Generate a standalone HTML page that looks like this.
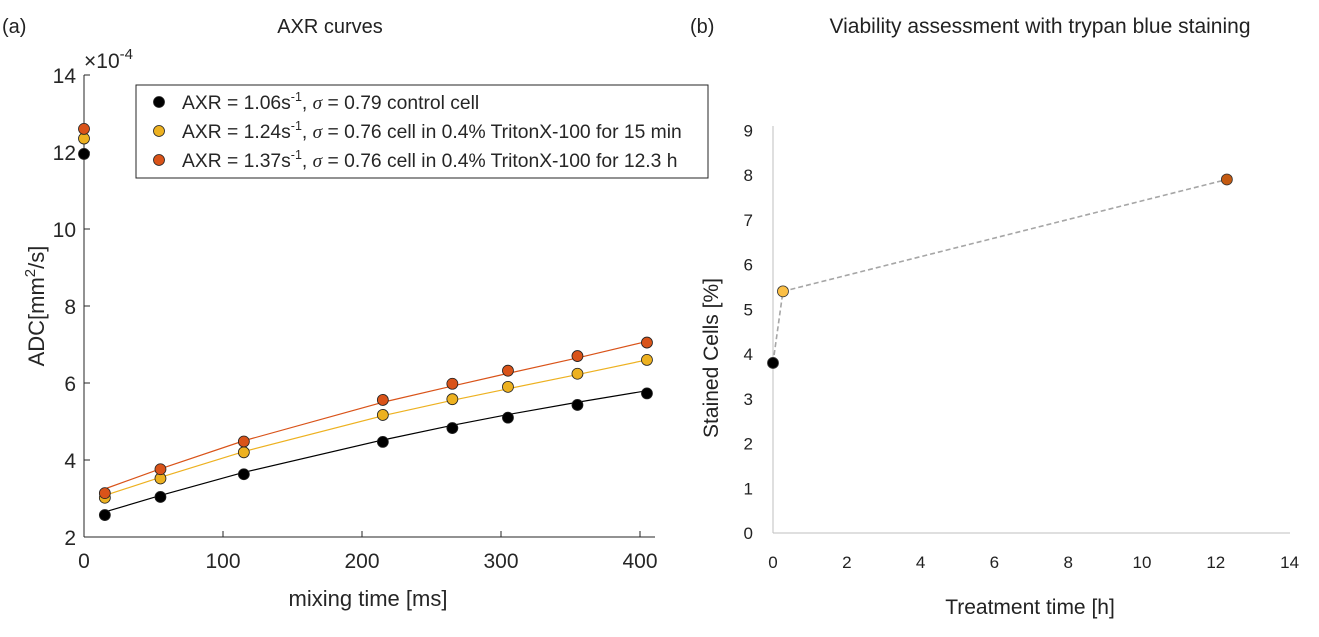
<!DOCTYPE html>
<html><head><meta charset="utf-8"><style>
body{margin:0;background:#fff;width:1319px;height:632px;overflow:hidden}
svg{font-family:"Liberation Sans",sans-serif}
</style></head><body>
<svg id="c" width="1319" height="632">
<text x="2" y="33" font-size="20" fill="#222">(a)</text>
<text x="330" y="33" font-size="20" fill="#222" text-anchor="middle">AXR curves</text>
<text x="690" y="33" font-size="20" fill="#222">(b)</text>
<text x="1040" y="33" font-size="21" fill="#222" text-anchor="middle">Viability assessment with trypan blue staining</text>
<g id="L"></g><g id="R"></g>
</svg>
<script>
// Left chart data (ADC x1e-4)
const mixTimes=[0,15,55,115,215,265,305,355,405];
const adcControl=[11.95,2.57,3.04,3.63,4.47,4.83,5.1,5.43,5.73];
const adc15min=[12.35,3.02,3.52,4.2,5.17,5.58,5.9,6.24,6.6];
const adc12h=[12.6,3.14,3.76,4.48,5.56,5.98,6.32,6.7,7.05];
const fitTimes=[15,55,115,215,265,305,355,405];
const fitControl=[2.65,3.08,3.68,4.52,4.9,5.18,5.5,5.8];
const fit15min=[3.08,3.55,4.22,5.15,5.55,5.85,6.22,6.6];
const fit12h=[3.25,3.77,4.5,5.5,5.92,6.25,6.65,7.08];
const xTicksL=[0,100,200,300,400];
const yTicksL=[2,4,6,8,10,12,14];
const legendLabels=["control cell","cell in 0.4% TritonX-100 for 15 min","cell in 0.4% TritonX-100 for 12.3 h"];
const legendAXR=["1.06","1.24","1.37"];
const legendSigma=["0.79","0.76","0.76"];
// Right chart data
const treatTimes=[0,0.27,12.3];
const stained=[3.8,5.4,7.9];
const xTicksR=[0,2,4,6,8,10,12,14];
const yTicksR=[0,1,2,3,4,5,6,7,8,9];

const NS="http://www.w3.org/2000/svg";
function mk(p,t,a,txt){const e=document.createElementNS(NS,t);for(const k in a)e.setAttribute(k,a[k]);if(txt!==undefined)e.textContent=txt;p.appendChild(e);return e;}
const L=document.getElementById('L'),R=document.getElementById('R');
const xL=v=>84+v*1.39, yL=v=>537-(v-2)*38.5;
let e;
e=mk(L,'line',{x1:84,y1:537,x2:655,y2:537,stroke:'#262626'});

e=mk(L,'line',{x1:84,y1:537,x2:84,y2:75,stroke:'#262626'});

xTicksL.forEach(t=>{mk(L,'line',{x1:xL(t),y1:537,x2:xL(t),y2:531,stroke:'#262626'});
e=mk(L,'text',{x:xL(t),y:568,'font-size':21,'text-anchor':'middle',fill:'#262626'},t);
});
yTicksL.forEach(t=>{mk(L,'line',{x1:84,y1:yL(t),x2:90,y2:yL(t),stroke:'#262626'});
e=mk(L,'text',{x:76,y:yL(t)+8,'font-size':21,'text-anchor':'end',fill:'#262626'},t);
});
e=mk(L,'text',{x:84,y:68,'font-size':21,fill:'#262626'});
e.innerHTML='×10<tspan dy="-9" font-size="15">-4</tspan>';

e=mk(L,'text',{x:368,y:606,'font-size':22,'text-anchor':'middle',fill:'#262626'},'mixing time [ms]');

e=mk(L,'text',{transform:'translate(44,306) rotate(-90)','font-size':22,'text-anchor':'middle',fill:'#262626'});
e.innerHTML='ADC[mm<tspan dy="-9" font-size="15">2</tspan><tspan dy="9">/s]</tspan>';

const cols=['#000000','#EDB120','#D95319'];
[[fitControl,adcControl],[fit15min,adc15min],[fit12h,adc12h]].forEach((s,i)=>{
 e=mk(L,'polyline',{points:fitTimes.map((t,j)=>xL(t)+','+yL(s[0][j])).join(' '),fill:'none',stroke:cols[i],'stroke-width':1.2});
 
 mixTimes.forEach((t,j)=>{e=mk(L,'circle',{cx:xL(t),cy:yL(s[1][j]),r:5.5,fill:cols[i],stroke:'#222','stroke-width':0.8});
 });
});
e=mk(L,'rect',{x:136,y:85,width:572,height:93,fill:'#fff',stroke:'#262626'});

legendLabels.forEach((lab,i)=>{const y=103+i*29;
 e=mk(L,'circle',{cx:159,cy:y-1,r:5.5,fill:cols[i],stroke:'#222','stroke-width':0.8});
 
 e=mk(L,'text',{x:182,y:y+6,'font-size':19.3,fill:'#262626'});
 e.innerHTML='AXR = '+legendAXR[i]+'s<tspan dy="-8" font-size="12.5">-1</tspan><tspan dy="8">, </tspan><tspan font-family="Liberation Serif" font-style="italic">σ</tspan> = '+legendSigma[i]+' '+lab;
 
});
// Right chart
const xR=v=>773+v*36.9, yR=v=>533-v*44.75;
e=mk(R,'line',{x1:773,y1:533,x2:1290,y2:533,stroke:'#bfbfbf'});

e=mk(R,'line',{x1:773,y1:533,x2:773,y2:126,stroke:'#bfbfbf'});

xTicksR.forEach(t=>{e=mk(R,'text',{x:xR(t),y:568,'font-size':17,'text-anchor':'middle',fill:'#222'},t);
});
yTicksR.forEach(t=>{e=mk(R,'text',{x:753,y:yR(t)+6,'font-size':17,'text-anchor':'end',fill:'#222'},t);
});
e=mk(R,'text',{x:1030,y:614,'font-size':21,'text-anchor':'middle',fill:'#222'},'Treatment time [h]');

e=mk(R,'text',{transform:'translate(718,358) rotate(-90)','font-size':21,'text-anchor':'middle',fill:'#222'},'Stained Cells [%]');

e=mk(R,'polyline',{points:treatTimes.map((t,j)=>xR(t)+','+yR(stained[j])).join(' '),fill:'none',stroke:'#a6a6a6','stroke-width':1.6,'stroke-dasharray':'5,3'});

const colsR=['#000000','#FBBF45','#C55A11'];
treatTimes.forEach((t,j)=>{e=mk(R,'circle',{cx:xR(t),cy:yR(stained[j]),r:5.5,fill:colsR[j],stroke:'#333','stroke-width':0.8});
});
</script>
</body></html>
